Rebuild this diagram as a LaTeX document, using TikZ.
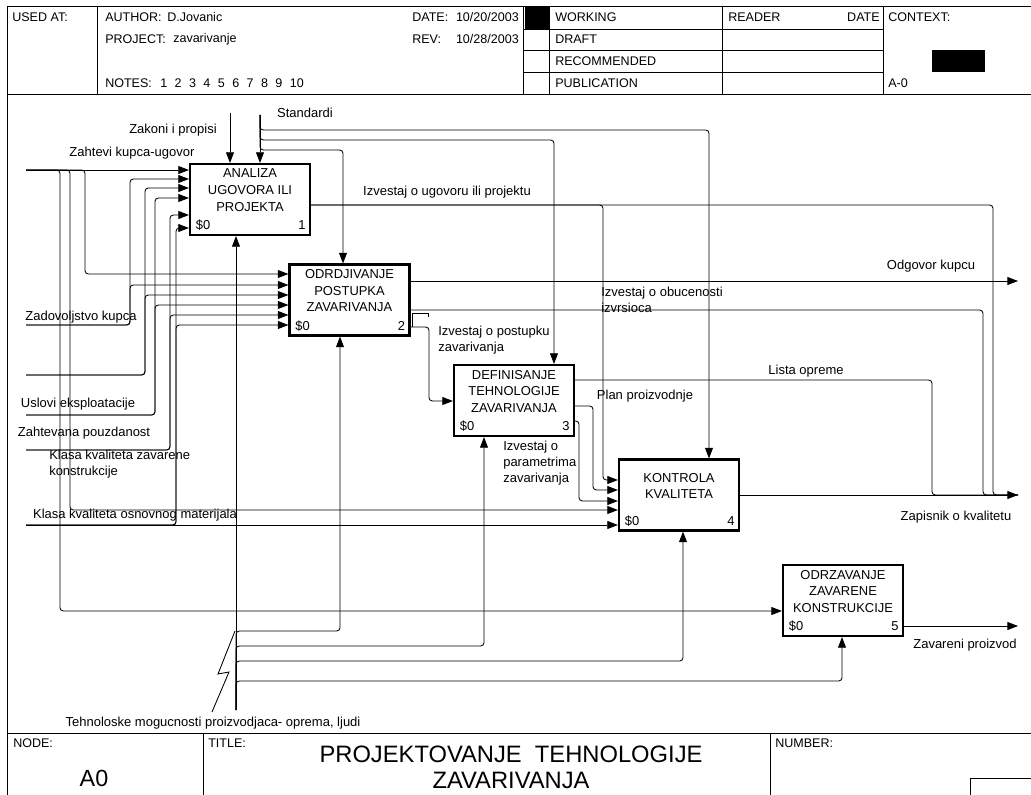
\documentclass[tikz,border=0pt]{standalone}
\usepackage{fontspec}
\setmainfont{Liberation Sans}
\usepackage{tikz}
\usetikzlibrary{arrows.meta, positioning}

\begin{document}
\begin{tikzpicture}[x=0.75pt, y=-0.75pt,
    func/.style={rectangle, draw, line width=1.6pt, minimum width=90pt, minimum height=53.25pt, inner sep=0pt},
    ftext/.style={anchor=north, align=center, inner sep=4.4pt, font=\fontsize{9.7}{12.4}\selectfont},
    cost/.style={anchor=base west, inner sep=0pt, font=\fontsize{9.7}{11}\selectfont},
    fnum/.style={anchor=base east, inner sep=0pt, font=\fontsize{9.7}{11}\selectfont},
    lbl/.style={inner sep=0pt, font=\fontsize{9.75}{12}\selectfont},
    mlbl/.style={lbl, anchor=north west, align=left},
    hdr/.style={anchor=west, inner sep=0pt, font=\fontsize{9.4}{11}\selectfont},
    frame/.style={line width=0.6pt},
    flow/.style={line width=0.65pt, rounded corners=2.5pt},
    arr/.style={flow, -{Triangle[length=8pt, width=6pt]}}]

    \useasboundingbox (0,0) rectangle (1031,795);

    % form frame
    \draw[frame] (7,795) -- (7,6) -- (1031,6);
    \draw[frame] (7,94) -- (1031,94);
    \draw[frame] (97,6) -- (97,94);
    \foreach \x in {523,549,722,883} \draw[frame] (\x,6) -- (\x,94);
    \foreach \y in {29,50,72} \draw[frame] (523,\y) -- (883,\y);
    \fill (525,7) rectangle (549,29);
    \fill (932,50) rectangle (985,72);
    \draw[frame] (7,733) -- (1031,733);
    \draw[frame] (203,733) -- (203,795);
    \draw[frame] (770,733) -- (770,795);
    \draw[frame] (970,795) -- (970,778) -- (1031,778);

    \node[hdr] (usedat) at (12,17) {USED AT:};
    \node[hdr] (author) at (105,17) {AUTHOR:};
    \node[hdr] (authorval) at (167,17) {D.Jovanic};
    \node[hdr] (project) at (105,39) {PROJECT:};
    \node[hdr] (projectval) at (173,39) {zavarivanje};
    \node[hdr] (notes) at (105,83) {NOTES:};
    \foreach \n in {1,...,10} \node[hdr] (note\n) at ({145.6+14.4*\n},83) {\n};
    \node[hdr] (date) at (412,17) {DATE:};
    \node[hdr, anchor=east] (dateval) at (519,17) {10/20/2003};
    \node[hdr] (rev) at (412,39) {REV:};
    \node[hdr, anchor=east] (revval) at (519,39) {10/28/2003};
    \foreach \t/\y in {WORKING/17, DRAFT/39, RECOMMENDED/61, PUBLICATION/83}
        \node[hdr] (\t) at (555,\y) {\t};
    \node[hdr] (reader) at (728,17) {READER};
    \node[hdr, anchor=east] (rdate) at (880,17) {DATE};
    \node[hdr] (context) at (888,17) {CONTEXT:};
    \node[hdr] (ctxnode) at (888,83) {A-0};

    \node[hdr] (nodehdr) at (13,743) {NODE:};
    \node[inner sep=0pt, font=\fontsize{17.5}{20}\selectfont] (nodeval) at (94,778) {A0};
    \node[hdr] (titlehdr) at (208,743) {TITLE:};
    \node[inner sep=0pt, align=center, font=\fontsize{17.8}{19.5}\selectfont] (title) at (511,767)
        {PROJEKTOVANJE\ \ TEHNOLOGIJE\\ZAVARIVANJA};
    \node[hdr] (numhdr) at (775,743) {NUMBER:};

    % functions
    \node[func] (b1) at (250,199.5) {};
    \node[func] (b2) at (349.5,300) {};
    \node[func] (b3) at (514,400.5) {};
    \node[func] (b4) at (679,495) {};
    \node[func] (b5) at (843,600.5) {};

    \node[ftext] (b1t) at (b1.north) {ANALIZA\\UGOVORA ILI\\PROJEKTA};
    \node[ftext] (b2t) at (b2.north) {ODRDJIVANJE\\POSTUPKA\\ZAVARIVANJA};
    \node[ftext] (b3t) at (b3.north) {DEFINISANJE\\TEHNOLOGIJE\\ZAVARIVANJA};
    \node[ftext, inner sep=11pt] (b4t) at (b4.north) {KONTROLA\\KVALITETA};
    \node[ftext] (b5t) at (b5.north) {ODRZAVANJE\\ZAVARENE\\KONSTRUKCIJE};

    \foreach \b/\n in {b1/1, b2/2, b3/3, b4/4, b5/5} {
        \node[cost] (\b c) at ([xshift=5pt, yshift=4.8pt]\b.south west) {\$0};
        \node[fnum] (\b n) at ([xshift=-4pt, yshift=4.8pt]\b.south east) {\n};
    }

    % labels
    \node[lbl] (zahLbl) at (132,153) {Zahtevi kupca-ugovor};
    \node[lbl] (zakLbl) at (173,130) {Zakoni i propisi};
    \node[lbl] (stdLbl) at (305,113) {Standardi};
    \node[lbl] (zadLbl) at (81,317) {Zadovoljstvo kupca};
    \node[lbl] (uslLbl) at (78,404) {Uslovi eksploatacije};
    \node[lbl] (pouLbl) at (84,433) {Zahtevana pouzdanost};
    \node[mlbl] (kzkLbl) at (49,450) {Klasa kvaliteta zavarene\\konstrukcije};
    \node[lbl] (kmLbl) at (135,515) {Klasa kvaliteta osnovnog materijala};
    \node[lbl] (iupLbl) at (447,192) {Izvestaj o ugovoru ili projektu};
    \node[lbl] (odgLbl) at (931,266) {Odgovor kupcu};
    \node[mlbl] (obuLbl) at (601,287) {Izvestaj o obucenosti\\izvrsioca};
    \node[mlbl] (posLbl) at (438,326) {Izvestaj o postupku\\zavarivanja};
    \node[lbl] (lstLbl) at (806,371) {Lista opreme};
    \node[lbl] (plnLbl) at (645,396) {Plan proizvodnje};
    \node[mlbl] (parLbl) at (503,441) {Izvestaj o\\parametrima\\zavarivanja};
    \node[lbl] (zapLbl) at (956,517) {Zapisnik o kvalitetu};
    \node[lbl] (zavLbl) at (965,645) {Zavareni proizvod};
    \node[lbl] (tehLbl) at (213,723) {Tehnoloske mogucnosti proizvodjaca- oprema, ljudi};

    % free ends
    \coordinate (zakIn) at (230,113);
    \coordinate (stdIn) at (260,115);
    \coordinate (zahIn) at (26,170);
    \coordinate (zadIn) at (26,325);
    \coordinate (kzkIn) at (26,375);
    \coordinate (uslIn) at (26,415);
    \coordinate (pouIn) at (26,450);
    \coordinate (kmIn) at (26,525);
    \coordinate (tehIn) at (236,710);
    \coordinate (odgOut) at (1018,281);
    \coordinate (zapOut) at (1018,495);
    \coordinate (zavOut) at (1018,626);

    % controls
    \draw[arr] (zakIn) -- (zakIn |- b1.north);
    \draw[arr] (stdIn) -- (stdIn |- b1.north);
    \draw[arr] (stdIn) -- (260,150) -- (343,150) -- (343,0 |- b2.north);
    \draw[arr] (stdIn) -- (260,140) -- (554,140) -- (554,0 |- b3.north);
    \draw[arr] (stdIn) -- (260,130) -- (709,130) -- (709,0 |- b4.north);

    % inputs
    \draw[arr] (zahIn) -- (zahIn -| b1.west);
    \draw[arr] (zahIn) -- (85,170) -- (85,274) -- (b2.west |- 0,274);
    \draw[arr] (zahIn) -- (70,170) -- (70,510) -- (b4.west |- 0,510);
    \draw[arr] (zahIn) -- (60,170) -- (60,611) -- (b5.west |- 0,611);
    \draw[arr] (zadIn) -- (130,325) -- (130,179) -- (b1.west |- 0,179);
    \draw[arr] (zadIn) -- (130,325) -- (130,285) -- (b2.west |- 0,285);
    \draw[arr] (kzkIn) -- (145,375) -- (145,188) -- (b1.west |- 0,188);
    \draw[arr] (kzkIn) -- (145,375) -- (145,295) -- (b2.west |- 0,295);
    \draw[arr] (uslIn) -- (155,415) -- (155,198) -- (b1.west |- 0,198);
    \draw[arr] (uslIn) -- (155,415) -- (155,305) -- (b2.west |- 0,305);
    \draw[arr] (pouIn) -- (170,450) -- (170,215) -- (b1.west |- 0,215);
    \draw[arr] (pouIn) -- (170,450) -- (170,315) -- (b2.west |- 0,315);
    \draw[arr] (kmIn) -- (kmIn -| b4.west);
    \draw[arr] (kmIn) -- (176,525) -- (176,228) -- (b1.west |- 0,228);
    \draw[arr] (kmIn) -- (176,525) -- (176,325) -- (b2.west |- 0,325);

    % outputs
    \draw[flow] (b1.east |- 0,205) -- (993,205) -- (993,495) -- (zapOut);
    \draw[arr] (b1.east |- 0,205) -- (603,205) -- (603,480) -- (b4.west |- 0,480);
    \draw[arr] (b2.east |- 0,281) -- (odgOut);
    \draw[flow] (b2.east |- 0,310) -- (983,310) -- (983,495) -- (zapOut);
    \draw[flow, rounded corners=0pt] (428,317) -- (428,313) -- (412,313) -- (412,327);
    \draw[arr] (b2.east |- 0,327) -- (429,327) -- (429,401) -- (b3.west |- 0,401);
    \draw[flow] (b3.east |- 0,380) -- (932,380) -- (932,495) -- (zapOut);
    \draw[arr] (b3.east |- 0,406) -- (593,406) -- (593,490) -- (b4.west |- 0,490);
    \draw[arr] (b3.east |- 0,421) -- (579,421) -- (579,501) -- (b4.west |- 0,501);
    \draw[arr] (b4.east) -- (zapOut);
    \draw[arr] (b5.east |- 0,626) -- (zavOut);

    % mechanisms
    \draw[arr] (tehIn) -- (tehIn |- b1.south);
    \draw[arr] (tehIn) -- (236,631) -- (340,631) -- (340,0 |- b2.south);
    \draw[arr] (tehIn) -- (236,646) -- (484,646) -- (484,0 |- b3.south);
    \draw[arr] (tehIn) -- (236,661) -- (683,661) -- (683,0 |- b4.south);
    \draw[arr] (tehIn) -- (236,681) -- (842,681) -- (842,0 |- b5.south);
    \draw[flow, rounded corners=0pt] (212,712) -- (229,672) -- (218,674) -- (235,631);

\end{tikzpicture}
\end{document}
